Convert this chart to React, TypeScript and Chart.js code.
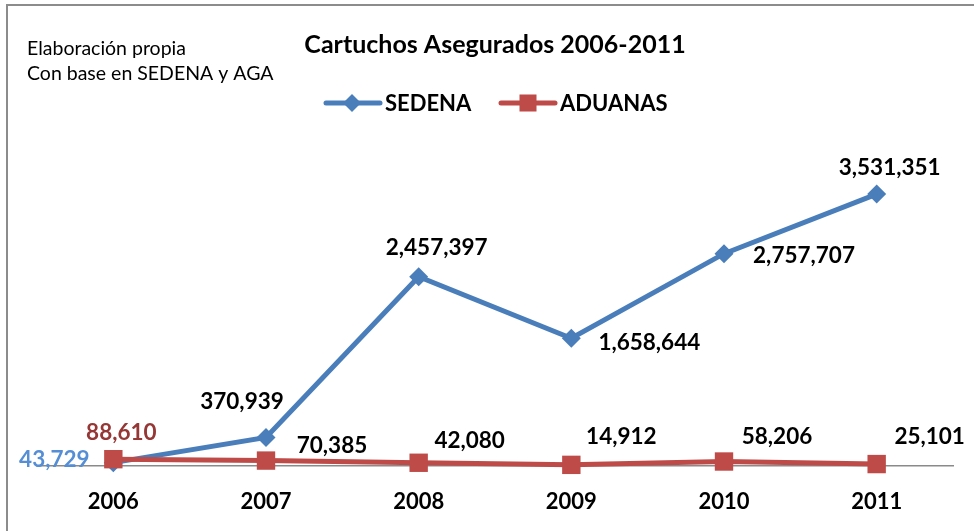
import React, { useEffect, useRef } from 'react';
import { Chart, registerables } from 'chart.js';

Chart.register(...registerables);

// ---- data ----
const years = ['2006', '2007', '2008', '2009', '2010', '2011'];
const sedenaValues = [43729, 370939, 2457397, 1658644, 2757707, 3531351];
const aduanasValues = [88610, 70385, 42080, 14912, 58206, 25101];
const seriesNames = ['SEDENA', 'ADUANAS'];
const chartTitle = 'Cartuchos Asegurados 2006-2011';
const sourceNote = ['Elaboración propia', 'Con base en SEDENA y AGA'];

// ---- styles ----
const BLUE = '#4A7EBB';
const RED = '#BE4B48';
const FONT = 'Lato';
// data label offsets from their point (px)
const sedenaLabelOffsets = [[-59, -3], [-24, -36], [18, -29], [78, 4], [80, 2], [13, -26]];
const aduanasLabelOffsets = [[8, -26], [66, -15], [51, -22], [50, -28], [53, -25], [53, -27]];
const sedenaLabelColors = ['#558ED5', '#000', '#000', '#000', '#000', '#000'];
const aduanasLabelColors = ['#953735', '#000', '#000', '#000', '#000', '#000'];

const fmt = (v: number) => String(v).replace(/\B(?=(\d{3})+(?!\d))/g, ',');

const decorPlugin = {
  id: 'decor',
  beforeDraw(chart: any) {
    const ctx = chart.ctx as CanvasRenderingContext2D;
    ctx.save();
    ctx.fillStyle = '#fff';
    ctx.fillRect(0, 0, chart.width, chart.height);
    ctx.strokeStyle = '#8C8C8C';
    ctx.lineWidth = 2;
    ctx.beginPath();
    ctx.moveTo(7, chart.height + 4);
    ctx.lineTo(7, 5);
    ctx.lineTo(chart.width + 4, 5);
    ctx.stroke();

    ctx.fillStyle = '#000';
    ctx.font = `19.5px ${FONT}`;
    ctx.textBaseline = 'middle';
    ctx.textAlign = 'left';
    ctx.fillText(sourceNote[0], 27, 49);
    ctx.fillText(sourceNote[1], 27, 74);

    // legend
    const ly = 103;
    ctx.lineCap = 'round';
    ctx.lineWidth = 5;
    ctx.strokeStyle = BLUE;
    ctx.beginPath();
    ctx.moveTo(326, ly);
    ctx.lineTo(380, ly);
    ctx.stroke();
    ctx.fillStyle = BLUE;
    ctx.beginPath();
    ctx.moveTo(352 - 9, ly);
    ctx.lineTo(352, ly - 9);
    ctx.lineTo(352 + 9, ly);
    ctx.lineTo(352, ly + 9);
    ctx.closePath();
    ctx.fill();

    ctx.strokeStyle = RED;
    ctx.beginPath();
    ctx.moveTo(501, ly);
    ctx.lineTo(555, ly);
    ctx.stroke();
    ctx.fillStyle = RED;
    ctx.fillRect(528 - 8.5, ly - 8.5, 17, 17);

    ctx.fillStyle = '#000';
    ctx.font = `bold 22px ${FONT}`;
    ctx.fillText(seriesNames[0], 385, ly + 1);
    ctx.fillText(seriesNames[1], 560, ly + 1);
    ctx.restore();
  },
  afterDatasetsDraw(chart: any) {
    const ctx = chart.ctx as CanvasRenderingContext2D;
    ctx.save();
    ctx.font = `bold 22.5px ${FONT}`;
    ctx.textAlign = 'center';
    ctx.textBaseline = 'middle';
    const draw = (dsIndex: number, values: number[], offs: number[][], colors: string[]) => {
      const meta = chart.getDatasetMeta(dsIndex);
      meta.data.forEach((pt: any, i: number) => {
        ctx.fillStyle = colors[i];
        ctx.fillText(fmt(values[i]), pt.x + offs[i][0], pt.y + offs[i][1]);
      });
    };
    draw(1, sedenaValues, sedenaLabelOffsets, sedenaLabelColors);
    draw(0, aduanasValues, aduanasLabelOffsets, aduanasLabelColors);
    ctx.restore();
  },
};

export default function App() {
  const ref = useRef<HTMLCanvasElement | null>(null);
  useEffect(() => {
    if (!ref.current) return;
    const chart = new Chart(ref.current, {
      type: 'line',
      data: {
        labels: years,
        datasets: [
          {
            label: seriesNames[1],
            data: aduanasValues,
            borderColor: RED,
            backgroundColor: RED,
            borderWidth: 5,
            pointStyle: 'rect',
            pointRadius: 13,
            pointHoverRadius: 13,
            pointBorderWidth: 0,
            tension: 0,
            clip: false as any,
          },
          {
            label: seriesNames[0],
            data: sedenaValues,
            borderColor: BLUE,
            backgroundColor: BLUE,
            borderWidth: 5,
            pointStyle: 'rectRot',
            pointRadius: 9.5,
            pointHoverRadius: 9.5,
            pointBorderWidth: 0,
            tension: 0,
            clip: false as any,
          },
        ],
      },
      options: {
        responsive: false,
        animation: false,
        events: [],
        layout: { padding: { left: 37, right: 21, top: 0, bottom: 0 } },
        plugins: {
          legend: { display: false },
          tooltip: { enabled: false },
          title: {
            display: true,
            text: chartTitle,
            color: '#000',
            font: { family: FONT, size: 25, weight: 'bold' },
            padding: { top: 30, bottom: 98 },
          },
        },
        scales: {
          x: {
            type: 'category',
            offset: true,
            grid: { display: false, drawTicks: false },
            border: { display: true, color: '#8A8A8A', width: 1.5 },
            ticks: {
              color: '#000',
              padding: 23,
              font: { family: FONT, size: 22, weight: 'bold' },
            },
            afterFit(scale: any) {
              scale.height = 65;
            },
          },
          y: {
            display: false,
            min: 0,
            max: 4000000,
          },
        },
      },
      plugins: [decorPlugin],
    });
    return () => chart.destroy();
  }, []);
  return (
    <div style={{ position: 'fixed', left: 0, top: 0, width: 974, height: 531 }}>
      <canvas ref={ref} width={974} height={531} />
    </div>
  );
}
